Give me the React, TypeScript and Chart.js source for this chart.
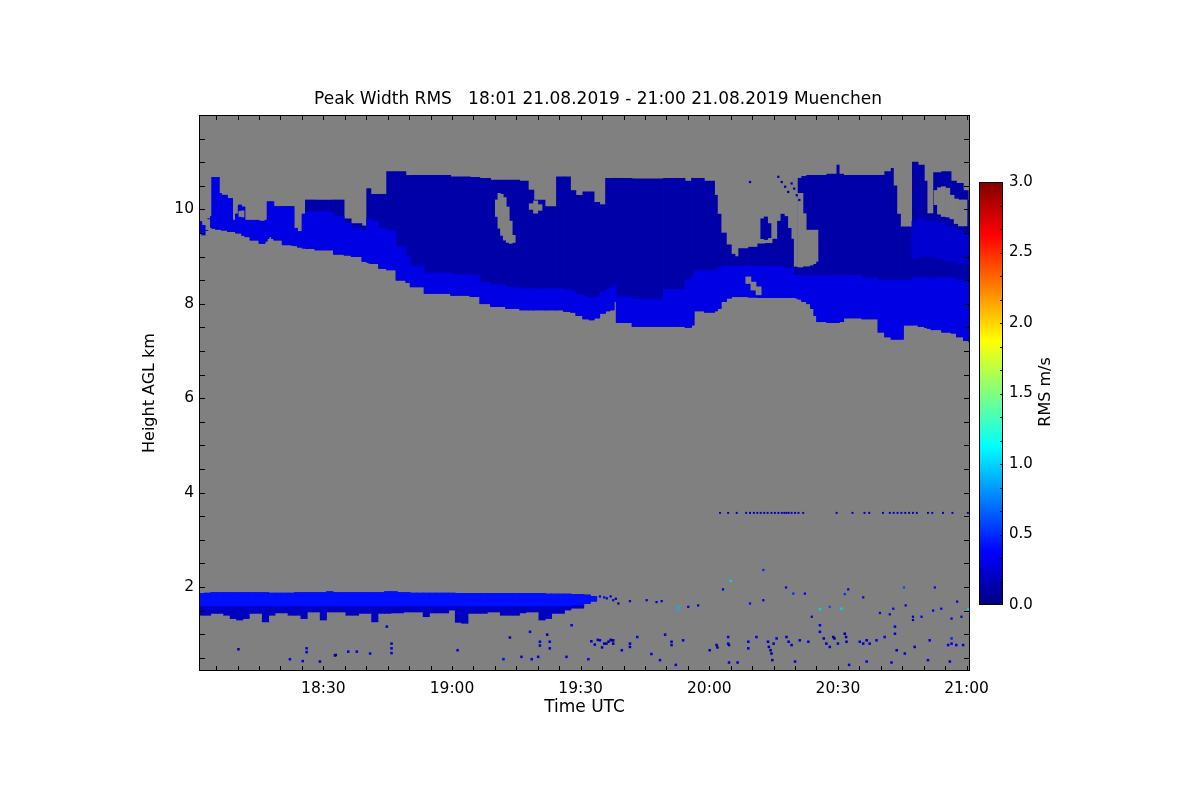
import React, { useEffect, useRef } from "react";
import { Chart, registerables } from "chart.js";

Chart.register(...registerables);

// ---------- axes (time in minutes after 18:00 UTC, height in km AGL) ----------
const X_MIN = 1.0;
const X_MAX = 180.8;
const Y_MIN = 0.22;
const Y_MAX = 12.0;
const X_TICKS = [30, 60, 90, 120, 150, 180];
const X_TICK_LABELS = ["18:30", "19:00", "19:30", "20:00", "20:30", "21:00"];
const X_MINOR_STEP = 5;
const Y_TICKS = [2, 4, 6, 8, 10];
const Y_MINOR_STEP = 0.5;
const CB_MIN = 0;
const CB_MAX = 3;
const CB_TICKS = [0, 0.5, 1.0, 1.5, 2.0, 2.5, 3.0];
const CB_MINOR_STEP = 0.5 / 3;

const TITLE = "Peak Width RMS   18:01 21.08.2019 - 21:00 21.08.2019 Muenchen";

// ---------- upper cirrus layer (column samples) ----------
const UPPER_T = [
  1.0, 2.3, 2.5, 3.6, 3.8, 4.2, 5.5, 5.9, 6.5, 8.7,
  9.0, 10.0, 10.3, 11.6, 11.8, 14.0, 16.0, 16.8, 17.0, 17.6,
  18.3, 18.6, 22.2, 23.0, 23.3, 24.6, 25.5, 26.1, 30.0, 34.7,
  35.0, 38.0, 40.0, 40.2, 41.0, 41.2, 44.6, 44.9, 49.0, 49.5,
  51.0, 56.0, 63.4, 65.0, 68.0, 70.0, 75.0, 76.6, 79.0, 79.2,
  84.2, 84.5, 87.5, 87.8, 90.0, 91.0, 93.0, 93.3, 95.6, 96.0,
  97.6, 98.0, 98.6, 105.4, 113.2, 115.5, 116.2, 116.7, 121.0, 121.5,
  122.3, 123.2, 124.8, 125.5, 126.5, 127.2, 131.1, 131.5, 134.6, 135.0,
  139.4, 139.9, 140.5, 140.9, 142.2, 143.2, 144.0, 144.8, 145.3, 149.5,
  150.0, 150.6, 152.1, 159.1, 159.6, 162.2, 162.6, 163.3, 164.2, 165.0,
  165.5, 167.2, 167.5, 169.9, 170.4, 171.2, 172.2, 172.4, 176.0, 176.8,
  178.5, 180.0, 180.8,
];
const UPPER_TOP = [
  9.74, 9.66, 9.55, 9.8, 9.85, 10.68, 10.68, 10.34, 10.3, 10.23,
  9.77, 9.9, 10.09, 10.05, 9.77, 9.77, 9.75, 9.77, 10.16, 10.16,
  10.16, 10.06, 10.06, 10.06, 9.6, 9.53, 9.9, 10.2, 10.2, 10.2,
  9.8, 9.7, 9.65, 10.44, 10.44, 10.32, 10.32, 10.8, 10.8, 10.72,
  10.72, 10.72, 10.69, 10.68, 10.66, 10.62, 10.62, 10.6, 10.41, 10.2,
  10.06, 10.69, 10.69, 10.4, 10.3, 10.37, 10.37, 10.15, 10.1, 10.66,
  10.66, 10.66, 10.66, 10.65, 10.66, 10.6, 10.66, 10.66, 10.6, 10.3,
  9.9, 9.5, 9.25, 9.05, 9.0, 9.17, 9.2, 9.27, 9.28, 9.37,
  9.37, 8.78, 8.78, 10.66, 10.7, 10.72, 10.72, 10.72, 10.72, 10.75,
  10.94, 10.75, 10.72, 10.72, 10.72, 10.8, 10.87, 10.5, 9.9, 9.63,
  9.63, 9.63, 11.0, 10.94, 10.6, 9.91, 9.91, 10.78, 10.8, 10.6,
  10.55, 10.4, 10.2,
];
const UPPER_BASE = [
  9.5, 9.46, 9.55, 9.8, 9.62, 9.6, 9.58, 9.58, 9.56, 9.53,
  9.53, 9.5, 9.5, 9.45, 9.42, 9.35, 9.28, 9.33, 9.38, 9.42,
  9.38, 9.35, 9.25, 9.24, 9.23, 9.2, 9.18, 9.17, 9.14, 9.05,
  9.03, 9.0, 8.9, 8.88, 8.86, 8.85, 8.75, 8.72, 8.5, 8.45,
  8.36, 8.22, 8.18, 8.15, 8.0, 7.94, 7.9, 7.87, 7.87, 7.87,
  7.87, 7.87, 7.84, 7.82, 7.75, 7.68, 7.66, 7.7, 7.8, 7.85,
  7.87, 8.05, 7.6, 7.52, 7.52, 7.5, 7.55, 7.85, 7.82, 7.85,
  7.9, 8.05, 8.12, 8.15, 8.15, 8.15, 8.14, 8.13, 8.13, 8.13,
  8.13, 8.13, 8.12, 8.1, 8.05, 8.0, 7.9, 7.75, 7.62, 7.6,
  7.6, 7.62, 7.7, 7.68, 7.4, 7.3, 7.25, 7.25, 7.25, 7.25,
  7.55, 7.55, 7.55, 7.52, 7.5, 7.48, 7.45, 7.45, 7.4, 7.38,
  7.3, 7.22, 7.2,
];
// top of the brighter (higher RMS) lower part of the cirrus
const UPPER_BAND = [
  9.74, 9.66, 9.55, 9.8, 9.85, 10.68, 10.68, 10.34, 10.3, 10.23,
  9.77, 9.9, 10.09, 10.05, 9.77, 9.77, 9.75, 9.77, 10.16, 10.16,
  10.16, 10.06, 10.06, 10.06, 9.6, 9.53, 9.9, 9.95, 9.95, 9.85,
  9.7, 9.6, 9.55, 9.8, 9.8, 9.75, 9.6, 9.55, 9.2, 9.0,
  8.8, 8.65, 8.62, 8.6, 8.45, 8.4, 8.35, 8.32, 8.32, 8.32,
  8.32, 8.32, 8.3, 8.28, 8.2, 8.15, 8.12, 8.15, 8.25, 8.3,
  8.35, 8.4, 8.15, 8.1, 8.3, 8.5, 8.6, 8.7, 8.7, 8.7,
  8.75, 8.8, 8.8, 8.8, 8.8, 8.8, 8.8, 8.8, 8.8, 8.8,
  8.75, 8.6, 8.6, 8.6, 8.6, 8.6, 8.6, 8.6, 8.6, 8.6,
  8.6, 8.6, 8.6, 8.55, 8.5, 8.5, 8.5, 8.5, 8.5, 8.5,
  8.5, 8.5, 8.55, 8.55, 8.55, 8.55, 8.55, 8.55, 8.55, 8.55,
  8.5, 8.5, 8.5,
];
const UPPER_CORE_RMS = 0.12;
const UPPER_BAND_RMS = 0.3;

// lighter patch inside the cirrus after 20:45
const PATCH_T = [168.0, 169.5, 171.0, 172.5, 174.0, 175.5, 177.0, 178.5, 180.0];
const PATCH_TOP = [9.75, 9.8, 9.75, 9.75, 9.7, 9.65, 9.6, 9.55, 9.5];
const PATCH_BOT = [8.95, 9.0, 9.0, 9.0, 8.95, 8.9, 8.9, 8.85, 8.85];
const PATCH_RMS = 0.24;

// gaps (no signal) inside the cirrus
const HOLE_A_T = [70.4, 71.0, 71.6, 72.3, 73.0, 73.7, 74.4];
const HOLE_A_TOP = [10.2, 10.34, 10.32, 10.25, 10.05, 9.75, 9.45];
const HOLE_A_BOT = [9.85, 9.6, 9.45, 9.35, 9.3, 9.28, 9.3];
const HOLE_B_T = [78.5, 79.5, 80.5];
const HOLE_B_TOP = [10.12, 10.18, 10.1];
const HOLE_B_BOT = [10.0, 9.92, 9.98];
const HOLE_C_T = [172.8, 173.6, 174.6, 175.6, 176.6, 177.6, 178.6, 179.6];
const HOLE_C_TOP = [10.4, 10.46, 10.48, 10.45, 10.3, 10.22, 10.2, 10.2];
const HOLE_C_BOT = [10.1, 9.9, 9.85, 9.84, 9.8, 9.7, 9.65, 9.65];
const HOLE_D_T = [129.1, 130.3, 131.5];
const HOLE_D_TOP = [8.57, 8.46, 8.36];
const HOLE_D_BOT = [8.43, 8.29, 8.19];
const HOLE_E_T = [10.6, 11.2];
const HOLE_E_TOP = [9.96, 9.97];
const HOLE_E_BOT = [9.85, 9.84];
// overhanging edge of the cloud block east of the bay (20:20-20:25)
const HOLE_BAY_T = [140.9, 141.5, 142.2, 143.0, 143.8, 144.6, 145.1];
const HOLE_BAY_TOP = [10.34, 10.34, 9.91, 9.56, 9.56, 9.56, 9.56];
const HOLE_BAY_BOT = [8.78, 8.78, 8.8, 8.8, 8.82, 8.85, 8.9];

// detached cloud pieces above the bay
const BLOB_A_T = [132.4, 133.2, 134.0];
const BLOB_A_TOP = [9.8, 9.84, 9.7];
const BLOB_A_BOT = [9.38, 9.36, 9.4];
const BLOB_B_T = [136.3, 137.1, 137.9, 138.7];
const BLOB_B_TOP = [9.75, 9.9, 9.85, 9.6];
const BLOB_B_BOT = [9.37, 9.37, 9.37, 9.37];
// thin fall streaks above the bay
const STREAK_T = [129.5, 136.1, 136.9, 137.7, 138.4, 139.2, 139.8, 140.4, 141.0];
const STREAK_H = [10.58, 10.69, 10.58, 10.48, 10.37, 10.55, 10.44, 10.3, 10.2];
const STREAK_RMS = 0.12;

// ---------- low layer (boundary-layer top) ----------
const LOW_T = [
  1.5, 3.0, 4.5, 6.0, 7.5, 9.0, 10.5, 12.0, 13.5, 15.0,
  16.5, 18.0, 19.5, 21.0, 22.5, 24.0, 25.5, 27.0, 28.5, 30.0,
  31.5, 33.0, 34.5, 36.0, 37.5, 39.0, 40.5, 42.0, 43.5, 45.0,
  46.5, 48.0, 49.5, 51.0, 52.5, 54.0, 55.5, 57.0, 58.5, 60.0,
  61.5, 63.0, 64.5, 66.0, 67.5, 69.0, 70.5, 72.0, 73.5, 75.0,
  76.5, 78.0, 79.5, 81.0, 82.5, 84.0, 85.5, 87.0, 88.5, 90.0,
  91.5, 93.0,
];
const LOW_TOP = [
  1.86, 1.87, 1.88, 1.88, 1.88, 1.88, 1.88, 1.88, 1.88, 1.88,
  1.88, 1.87, 1.87, 1.87, 1.87, 1.88, 1.88, 1.88, 1.88, 1.88,
  1.9, 1.88, 1.88, 1.88, 1.88, 1.88, 1.88, 1.88, 1.88, 1.9,
  1.9, 1.88, 1.88, 1.87, 1.87, 1.87, 1.87, 1.87, 1.87, 1.87,
  1.86, 1.86, 1.86, 1.86, 1.86, 1.86, 1.86, 1.86, 1.86, 1.86,
  1.86, 1.86, 1.86, 1.86, 1.85, 1.85, 1.85, 1.85, 1.84, 1.84,
  1.83, 1.8,
];
const LOW_BASE = [
  1.4, 1.4, 1.44, 1.44, 1.4, 1.33, 1.3, 1.33, 1.44, 1.44,
  1.26, 1.4, 1.45, 1.45, 1.4, 1.4, 1.33, 1.47, 1.47, 1.3,
  1.47, 1.47, 1.47, 1.4, 1.4, 1.44, 1.44, 1.26, 1.44, 1.44,
  1.45, 1.45, 1.47, 1.47, 1.47, 1.37, 1.45, 1.45, 1.45, 1.51,
  1.25, 1.23, 1.44, 1.44, 1.44, 1.47, 1.47, 1.4, 1.4, 1.4,
  1.45, 1.47, 1.47, 1.3, 1.33, 1.44, 1.44, 1.51, 1.55, 1.55,
  1.65, 1.7,
];
const LOW_BRIGHT_BOTTOM = [
  1.6, 1.6, 1.6, 1.6, 1.6, 1.6, 1.6, 1.6, 1.6, 1.6,
  1.6, 1.6, 1.6, 1.6, 1.6, 1.6, 1.6, 1.6, 1.6, 1.6,
  1.6, 1.6, 1.6, 1.6, 1.6, 1.6, 1.6, 1.6, 1.6, 1.6,
  1.6, 1.6, 1.6, 1.6, 1.6, 1.6, 1.6, 1.6, 1.6, 1.6,
  1.6, 1.6, 1.6, 1.6, 1.6, 1.6, 1.6, 1.6, 1.6, 1.6,
  1.6, 1.6, 1.6, 1.6, 1.6, 1.6, 1.6, 1.6, 1.62, 1.62,
  1.66, 1.7,
];
const LOW_CORE_RMS = 0.2;
const LOW_BAND_RMS = 0.42;

// ---------- scattered echoes ----------
const EARLY_T = [
  10.2, 22.2, 25.2, 26.1, 26.1, 29.2, 32.7, 32.9, 35.8, 37.8,
  40.9, 45.9, 45.9, 45.9, 44.8, 61.3, 72.0, 73.5, 76.2, 78.2,
  78.6, 80.1, 80.5, 80.5, 82.2, 82.8, 82.8, 86.7, 87.9, 91.8,
  92.5, 93.3, 94.0, 95.0, 96.0, 97.0, 97.6,
];
const EARLY_H = [
  0.68, 0.47, 0.43, 0.7, 0.62, 0.42, 0.55, 0.56, 0.63, 0.63,
  0.59, 0.8, 0.7, 0.6, 1.16, 0.66, 0.47, 0.93, 0.52, 1.05,
  0.47, 0.52, 0.84, 0.76, 0.99, 0.84, 0.7, 0.52, 1.19, 0.47,
  0.85, 0.78, 0.88, 0.72, 0.8, 0.88, 0.87,
];
const EARLY_RMS = [
  0.15, 0.3, 0.3, 0.3, 0.3, 0.15, 0.1, 0.1, 0.3, 0.3,
  0.3, 0.25, 0.25, 0.25, 0.3, 0.3, 0.4, 0.2, 0.3, 0.3,
  0.3, 0.3, 0.25, 0.25, 0.15, 0.3, 0.3, 0.3, 0.3, 0.3,
  0.2, 0.2, 0.2, 0.2, 0.15, 0.15, 0.15,
];
const MID_T = [
  94.5, 95.5, 96.1, 97.0, 97.6, 98.2, 98.8, 101.5, 105.4, 107.7,
  108.9, 112.8, 112.8, 115.1, 117.4, 123.2, 125.0, 132.6, 129.5, 132.6,
  137.9, 139.6, 142.3, 143.9, 145.8, 148.1, 150.8, 151.6, 152.4, 155.9,
  159.8, 162.1, 162.9, 165.4, 165.8, 167.5, 167.5, 169.5, 172.2, 172.6,
  174.1, 176.5, 177.8, 178.8, 180.4,
];
const MID_H = [
  1.8, 1.78, 1.76, 1.8, 1.72, 1.75, 1.65, 1.7, 1.72, 1.68,
  1.7, 1.58, 1.52, 1.58, 1.61, 1.95, 2.13, 2.36, 1.65, 1.72,
  1.99, 1.86, 1.86, 1.37, 1.53, 1.58, 1.54, 1.85, 1.95, 1.78,
  1.45, 1.42, 1.54, 1.99, 1.61, 1.37, 1.3, 1.37, 1.5, 1.99,
  1.54, 1.33, 1.69, 1.37, 1.53,
];
const MID_RMS = [
  0.35, 0.35, 0.3, 0.3, 0.35, 0.1, 0.15, 0.3, 0.3, 0.3,
  0.3, 0.9, 0.9, 0.3, 0.3, 0.3, 1.0, 0.5, 0.4, 0.3,
  0.3, 0.5, 0.3, 0.3, 1.0, 0.6, 1.0, 0.5, 0.3, 0.3,
  0.3, 0.3, 0.3, 0.6, 0.3, 0.15, 0.15, 0.3, 0.3, 0.4,
  0.3, 0.3, 0.3, 0.3, 1.0,
];
const LATE_T = [
  94.5, 95.5, 96.5, 97.3, 97.6, 99.6, 101.5, 101.5, 103.2, 106.5,
  108.5, 109.7, 111.2, 111.2, 113.9, 112.2, 120.1, 121.7, 121.9, 124.4,
  124.4, 124.6, 124.6, 126.6, 129.1, 129.1, 131.0, 133.7, 133.9, 134.3,
  134.5, 134.7, 135.0, 135.7, 138.0, 138.5, 139.2, 140.0, 141.1, 143.1,
  145.8, 145.8, 146.7, 147.3, 148.1, 148.9, 149.2, 150.0, 151.6, 151.9,
  152.0, 152.6, 155.1, 155.9, 156.7, 156.7, 157.4, 159.0, 160.9, 162.5,
  163.3, 163.3, 163.7, 165.6, 167.9, 171.0, 171.4, 175.7, 176.1, 176.5,
  176.5, 177.6, 179.2,
];
const LATE_H = [
  0.87, 0.8, 0.84, 0.87, 0.8, 0.66, 0.8, 0.73, 0.94, 0.58,
  0.45, 0.99, 0.84, 0.77, 0.87, 0.35, 0.66, 0.77, 0.72, 0.94,
  0.8, 0.77, 0.4, 0.4, 0.84, 0.7, 0.94, 0.84, 0.73, 0.66,
  0.59, 0.45, 0.8, 0.91, 0.94, 0.84, 0.77, 0.42, 0.87, 0.84,
  1.19, 1.05, 0.91, 0.8, 0.73, 0.94, 0.91, 0.8, 1.01, 0.94,
  0.84, 0.35, 0.84, 0.8, 0.87, 0.42, 0.8, 0.87, 0.94, 0.4,
  1.16, 1.01, 0.66, 0.59, 0.73, 0.45, 0.87, 0.77, 0.42, 0.91,
  0.8, 0.77, 0.77,
];
const LATE_RMS = [
  0.2, 0.2, 0.1, 0.1, 0.1, 0.2, 0.2, 0.2, 0.3, 0.3,
  0.3, 0.3, 0.2, 0.2, 0.3, 0.3, 0.2, 0.1, 0.1, 0.3,
  0.3, 0.2, 0.3, 0.3, 0.3, 0.3, 0.3, 0.2, 0.1, 0.1,
  0.1, 0.1, 0.2, 0.3, 0.2, 0.2, 0.2, 0.3, 0.2, 0.3,
  0.3, 0.3, 0.2, 0.2, 0.3, 0.1, 0.1, 0.3, 0.1, 0.1,
  0.2, 0.3, 0.3, 0.2, 0.1, 0.3, 0.3, 0.3, 0.3, 0.3,
  0.3, 0.3, 0.15, 0.3, 0.2, 0.3, 0.3, 0.3, 0.3, 0.5,
  0.3, 0.3, 0.3,
];
// thin intermittent line at about 3.57 km
const LAYER35_T = [
  122.5, 124.4, 126.4, 128.6, 129.5, 130.4, 131.2, 132.0, 132.8, 133.6,
  134.5, 135.3, 136.1, 136.9, 137.5, 138.0, 138.5, 139.2, 140.0, 140.8,
  141.9, 149.7, 153.4, 156.2, 157.3, 160.5, 162.1, 163.0, 163.9, 164.8,
  165.7, 166.6, 167.5, 168.4, 171.0, 172.0, 174.5, 176.7, 180.3,
];
const LAYER35_HEIGHT = 3.57;
const LAYER35_RMS = 0.15;

// ---------- styling ----------
const FONT = '"DejaVu Sans", Verdana, sans-serif';
const GRAY = "#808080";
const JET_STOPS = [0, 0.125, 0.375, 0.625, 0.875, 1];

function jet(v: number): string {
  const f = Math.min(1, Math.max(0, (v - CB_MIN) / (CB_MAX - CB_MIN)));
  const c = (k: number) =>
    Math.round(255 * Math.min(1, Math.max(0, 1.5 - Math.abs(4 * f - k))));
  return `rgb(${c(3)},${c(2)},${c(1)})`;
}

function buildDatasets() {
  const ds: any[] = [];
  const pts = (xs: number[], ys: number[]) => xs.map((x, i) => ({ x, y: ys[i] }));
  // floating columns: one bar per time sample, spanning [bottom, top]
  const columns = (xs: number[], top: number[], bottom: number[], color: string) => {
    ds.push({
      type: "bar",
      data: xs.map((x, i) => ({ x, y: [bottom[i], top[i]] })),
      backgroundColor: color,
      borderWidth: 0,
      barThickness: "flex",
      barPercentage: 1,
      categoryPercentage: 1,
      stack: "raster",
    });
  };
  const specks = (xs: number[], ys: number[], vals: number[], r: number) => {
    ds.push({
      type: "scatter", data: pts(xs, ys), pointStyle: "rect", pointRadius: r,
      pointBackgroundColor: vals.map(jet), pointBorderWidth: 0, borderWidth: 0, showLine: false,
    });
  };

  columns(UPPER_T, UPPER_TOP, UPPER_BASE, jet(UPPER_CORE_RMS));
  columns(UPPER_T, UPPER_BAND, UPPER_BASE, jet(UPPER_BAND_RMS));
  columns(PATCH_T, PATCH_TOP, PATCH_BOT, jet(PATCH_RMS));
  columns(BLOB_A_T, BLOB_A_TOP, BLOB_A_BOT, jet(UPPER_CORE_RMS));
  columns(BLOB_B_T, BLOB_B_TOP, BLOB_B_BOT, jet(UPPER_CORE_RMS));
  columns(HOLE_A_T, HOLE_A_TOP, HOLE_A_BOT, GRAY);
  columns(HOLE_B_T, HOLE_B_TOP, HOLE_B_BOT, GRAY);
  columns(HOLE_C_T, HOLE_C_TOP, HOLE_C_BOT, GRAY);
  columns(HOLE_D_T, HOLE_D_TOP, HOLE_D_BOT, GRAY);
  columns(HOLE_E_T, HOLE_E_TOP, HOLE_E_BOT, GRAY);
  columns(HOLE_BAY_T, HOLE_BAY_TOP, HOLE_BAY_BOT, GRAY);
  columns(LOW_T, LOW_TOP, LOW_BASE, jet(LOW_CORE_RMS));
  columns(LOW_T, LOW_TOP, LOW_BRIGHT_BOTTOM, jet(LOW_BAND_RMS));
  specks(STREAK_T, STREAK_H, STREAK_T.map(() => STREAK_RMS), 1.6);
  specks(EARLY_T, EARLY_H, EARLY_RMS, 1.8);
  specks(MID_T, MID_H, MID_RMS, 1.6);
  specks(LATE_T, LATE_H, LATE_RMS, 1.8);
  specks(LAYER35_T, LAYER35_T.map(() => LAYER35_HEIGHT), LAYER35_T.map(() => LAYER35_RMS), 1.4);

  // first pushed is drawn first (bottom-most)
  ds.forEach((d, i) => { d.order = ds.length - i; });
  return ds;
}

const plotPlugin = {
  id: "plotDecor",
  beforeDatasetsDraw(chart: any) {
    const { ctx, chartArea: a } = chart;
    ctx.save();
    ctx.fillStyle = GRAY;
    ctx.fillRect(a.left, a.top, a.right - a.left, a.bottom - a.top);
    ctx.restore();
  },
  afterDatasetsDraw(chart: any) {
    const { ctx, chartArea: a, scales } = chart;
    const x = scales.x;
    const y = scales.y;
    ctx.save();
    ctx.strokeStyle = "#000";
    ctx.lineWidth = 1;
    ctx.beginPath();
    for (let m = X_MINOR_STEP; m < X_MAX; m += X_MINOR_STEP) {
      if (m <= X_MIN) continue;
      const px = Math.round(x.getPixelForValue(m)) + 0.5;
      ctx.moveTo(px, a.bottom); ctx.lineTo(px, a.bottom - 5);
      ctx.moveTo(px, a.top); ctx.lineTo(px, a.top + 5);
    }
    for (let h = Y_MINOR_STEP; h < Y_MAX - 0.01; h += Y_MINOR_STEP) {
      if (h <= Y_MIN) continue;
      const py = Math.round(y.getPixelForValue(h)) + 0.5;
      ctx.moveTo(a.left, py); ctx.lineTo(a.left + 6, py);
      ctx.moveTo(a.right, py); ctx.lineTo(a.right - 6, py);
    }
    ctx.stroke();
    ctx.strokeRect(a.left + 0.5, a.top + 0.5, a.right - a.left - 1, a.bottom - a.top - 1);
    ctx.restore();
  },
  afterDraw(chart: any) {
    const { ctx } = chart;
    ctx.save();
    ctx.fillStyle = "#000";
    ctx.font = `17px ${FONT}`;
    ctx.textAlign = "center";
    ctx.textBaseline = "alphabetic";
    ctx.fillText(TITLE, 598, 104);
    ctx.restore();
  },
};

const colorbarPlugin = {
  id: "colorbarDecor",
  afterDatasetsDraw(chart: any) {
    const { ctx, chartArea: a, scales } = chart;
    const y = scales.y;
    ctx.save();
    ctx.strokeStyle = "#000";
    ctx.lineWidth = 1;
    ctx.beginPath();
    for (let v = CB_MIN + CB_MINOR_STEP; v < CB_MAX - 1e-6; v += CB_MINOR_STEP) {
      const py = Math.round(y.getPixelForValue(v)) + 0.5;
      ctx.moveTo(a.right, py); ctx.lineTo(a.right - 3, py);
    }
    ctx.stroke();
    ctx.strokeRect(a.left + 0.5, a.top + 0.5, a.right - a.left - 1, a.bottom - a.top - 1);
    ctx.translate(86, 392);
    ctx.rotate(-Math.PI / 2);
    ctx.fillStyle = "#000";
    ctx.font = `16px ${FONT}`;
    ctx.textAlign = "center";
    ctx.textBaseline = "middle";
    ctx.fillText("RMS m/s", 0, 0);
    ctx.restore();
  },
};

export default function App() {
  const mainRef = useRef<HTMLCanvasElement>(null);
  const cbRef = useRef<HTMLCanvasElement>(null);

  useEffect(() => {
    Chart.defaults.color = "#000";
    const main = new Chart(mainRef.current as HTMLCanvasElement, {
      type: "bar",
      data: { datasets: buildDatasets() },
      options: {
        responsive: false,
        animation: false,
        devicePixelRatio: 1,
        events: [],
        layout: { padding: { left: 0, top: 115, right: 230, bottom: 0 } },
        plugins: { legend: { display: false }, tooltip: { enabled: false }, title: { display: false } },
        scales: {
          x: {
            type: "linear", min: X_MIN, max: X_MAX, offset: false,
            grid: { display: false, drawTicks: false, offset: false }, border: { display: false },
            afterFit: (s: any) => { s.height = 129; },
            afterBuildTicks: (s: any) => { s.ticks = X_TICKS.map((v) => ({ value: v })); },
            ticks: {
              autoSkip: false, maxRotation: 0, padding: 9, color: "#000",
              font: { family: FONT, size: 15.5 },
              callback: (v: any) => {
                const i = X_TICKS.indexOf(Number(v));
                return i >= 0 ? X_TICK_LABELS[i] : "";
              },
            },
            title: {
              display: true, text: "Time UTC", color: "#000",
              font: { family: FONT, size: 17 }, padding: { top: 0, bottom: 82 },
            },
          },
          y: {
            type: "linear", min: Y_MIN, max: Y_MAX, stacked: false, beginAtZero: false,
            grid: { display: false, drawTicks: false }, border: { display: false },
            afterFit: (s: any) => { s.width = 199; },
            afterBuildTicks: (s: any) => { s.ticks = Y_TICKS.map((v) => ({ value: v })); },
            ticks: {
              autoSkip: false, padding: 5, color: "#000",
              font: { family: FONT, size: 15.5 },
              callback: (v: any) => String(v),
            },
            title: {
              display: true, text: "Height AGL km", color: "#000",
              font: { family: FONT, size: 16 }, padding: { top: 140, bottom: 0 },
            },
          },
        },
      } as any,
      plugins: [plotPlugin],
    });

    const cb = new Chart(cbRef.current as HTMLCanvasElement, {
      type: "bar",
      data: {
        labels: [""],
        datasets: [{
          data: [[CB_MIN, CB_MAX]] as any,
          borderWidth: 0,
          barPercentage: 1,
          categoryPercentage: 1,
          backgroundColor: (c: any) => {
            const ch = c.chart;
            if (!ch.chartArea) return jet(CB_MIN);
            const ys = ch.scales.y;
            const g = ch.ctx.createLinearGradient(0, ys.getPixelForValue(CB_MIN), 0, ys.getPixelForValue(CB_MAX));
            JET_STOPS.forEach((f) => g.addColorStop(f, jet(CB_MIN + f * (CB_MAX - CB_MIN))));
            return g;
          },
        }],
      },
      options: {
        responsive: false,
        animation: false,
        devicePixelRatio: 1,
        events: [],
        layout: { padding: { left: 19, top: 182, right: 0, bottom: 195 } },
        plugins: { legend: { display: false }, tooltip: { enabled: false } },
        scales: {
          x: { display: false },
          y: {
            position: "right", min: CB_MIN, max: CB_MAX,
            grid: { display: false, drawTicks: false }, border: { display: false },
            afterFit: (s: any) => { s.width = 77; },
            afterBuildTicks: (s: any) => { s.ticks = CB_TICKS.map((v) => ({ value: v })); },
            ticks: {
              padding: 6, color: "#000", font: { family: FONT, size: 15 },
              callback: (v: any) => Number(v).toFixed(1),
            },
          },
        },
      } as any,
      plugins: [colorbarPlugin],
    });

    return () => { main.destroy(); cb.destroy(); };
  }, []);

  return (
    <div style={{ position: "absolute", left: 0, top: 0, width: 1200, height: 800, background: "#fff" }}>
      <canvas ref={mainRef} width={1200} height={800} style={{ position: "absolute", left: 0, top: 0 }} />
      <canvas ref={cbRef} width={120} height={800} style={{ position: "absolute", left: 960, top: 0 }} />
    </div>
  );
}
